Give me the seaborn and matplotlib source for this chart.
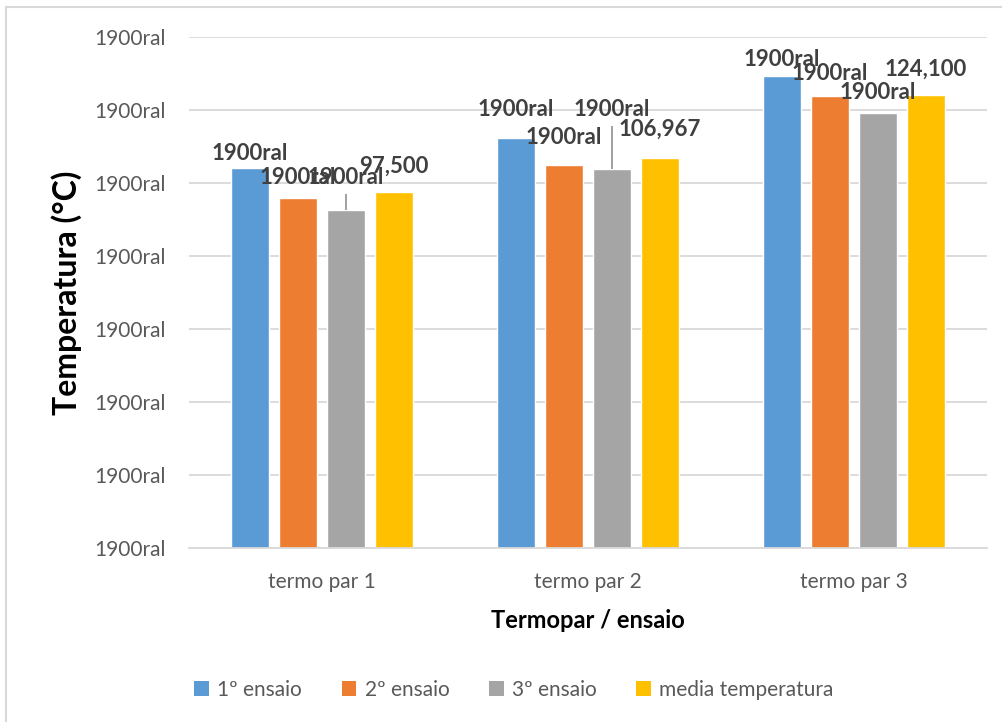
import matplotlib
matplotlib.use('Agg')
import matplotlib.pyplot as plt
import seaborn as sns
import pandas as pd
from matplotlib.lines import Line2D

# ---------------- data ----------------
termopares = ['termo par 1', 'termo par 2', 'termo par 3']
series = ['1º ensaio', '2º ensaio', '3º ensaio', 'media temperatura']
ensaio1 = [104.0, 112.2, 129.3]
ensaio2 = [96.0, 104.9, 123.8]
ensaio3 = [92.5, 103.8, 119.2]
media = [97.5, 106.967, 124.1]
erro_ensaio3 = [4.5, 11.8, 0.0]
yticks = [0, 20, 40, 60, 80, 100, 120, 140]
ytick_labels = ['1900ral'] * 8
label_ensaio = '1900ral'

# ---------------- style ----------------
colors = ['#5B9BD5', '#ED7D31', '#A5A5A5', '#FFC000']
grid_color = '#D9D9D9'
tick_color = '#595959'
label_color = '#404040'
# vertical label offsets (pixels) per series / group
label_offsets = [[15, 29, 17], [20, 28, 23], [16, 17, 20], [26, 28, 26]]

sns.set_theme(style='white')
plt.rcParams['font.family'] = ['Lato', 'DejaVu Sans']

values = [ensaio1, ensaio2, ensaio3, media]
rows = []
for s, vals in zip(series, values):
    for t, v in zip(termopares, vals):
        rows.append({'termopar': t, 'serie': s, 'valor': v})
df = pd.DataFrame(rows)

W, H = 1003, 722
fig = plt.figure(figsize=(W / 100, H / 100), dpi=100)
ax = fig.add_axes([189 / W, 1 - 548 / H, (987 - 189) / W, (548 - 37) / H])

sns.barplot(data=df, x='termopar', y='valor', hue='serie', hue_order=series,
            order=termopares, palette=colors, width=0.72, gap=0.21,
            errorbar=None, saturation=1, ax=ax, legend=True)

ax.set_ylim(0, 140)
ax.set_xlim(-0.5, 2.5)
ax.set_yticks(yticks)
ax.set_yticklabels(ytick_labels)
ax.yaxis.grid(True, color=grid_color, linewidth=1.3)
ax.set_axisbelow(True)
for side in ['left', 'right', 'top']:
    ax.spines[side].set_visible(False)
ax.spines['bottom'].set_color(grid_color)
ax.spines['bottom'].set_linewidth(1.3)
ax.tick_params(axis='both', length=0, colors=tick_color, labelsize=15)
ax.tick_params(axis='y', pad=17)
ax.tick_params(axis='x', pad=17)

ax.set_ylabel('Temperatura (°C)', fontsize=23, fontweight='bold', color='black')
ax.yaxis.set_label_coords(-(189 - 67) / (987 - 189), 0.5)
ax.set_xlabel('Termopar / ensaio', fontsize=17, fontweight='bold', color='black')
ax.xaxis.set_label_coords(0.5, -(620 - 548) / (548 - 37))
ax.xaxis.label.set_va('center')
ax.yaxis.label.set_va('center')

# error bars on 3º ensaio (positive only)
cont3 = ax.containers[2]
xs = [p.get_x() + p.get_width() / 2 for p in cont3]
hs = [p.get_height() for p in cont3]
ax.errorbar(xs, hs, yerr=[[0] * len(hs), erro_ensaio3], fmt='none',
            ecolor='#A0A0A0', elinewidth=1.4, capsize=0, zorder=3)

# data labels
for i, cont in enumerate(ax.containers[:4]):
    for j, p in enumerate(cont):
        x = p.get_x() + p.get_width() / 2
        top = p.get_height()
        if i == 2:
            top += erro_ensaio3[j]
        if i == 3:
            txt = f"{values[i][j]:.3f}".replace('.', ',')
        else:
            txt = label_ensaio
        ax.annotate(txt, (x, top), xytext=(0, label_offsets[i][j]),
                    textcoords='offset pixels', ha='center', va='center',
                    fontsize=16, fontweight='bold', color=label_color, zorder=5)

# legend
leg = ax.get_legend()
if leg is not None:
    leg.remove()
handles = [plt.Rectangle((0, 0), 1, 1, facecolor=c, edgecolor='none') for c in colors]
fig.legend(handles, series, loc='center', bbox_to_anchor=(514 / W, 1 - 690 / H),
           ncol=4, frameon=False, fontsize=15, handlelength=0.7, handleheight=0.7,
           handletextpad=0.4, columnspacing=1.9, labelcolor=tick_color)

# chart border (partially visible)
fig.add_artist(Line2D([6.5 / W, 6.5 / W], [0, 1 - 7 / H], transform=fig.transFigure,
                      color=grid_color, linewidth=1.5))
fig.add_artist(Line2D([6.5 / W, 1.0], [1 - 7 / H, 1 - 7 / H], transform=fig.transFigure,
                      color=grid_color, linewidth=1.5))

fig.savefig('out.png', dpi=100)
